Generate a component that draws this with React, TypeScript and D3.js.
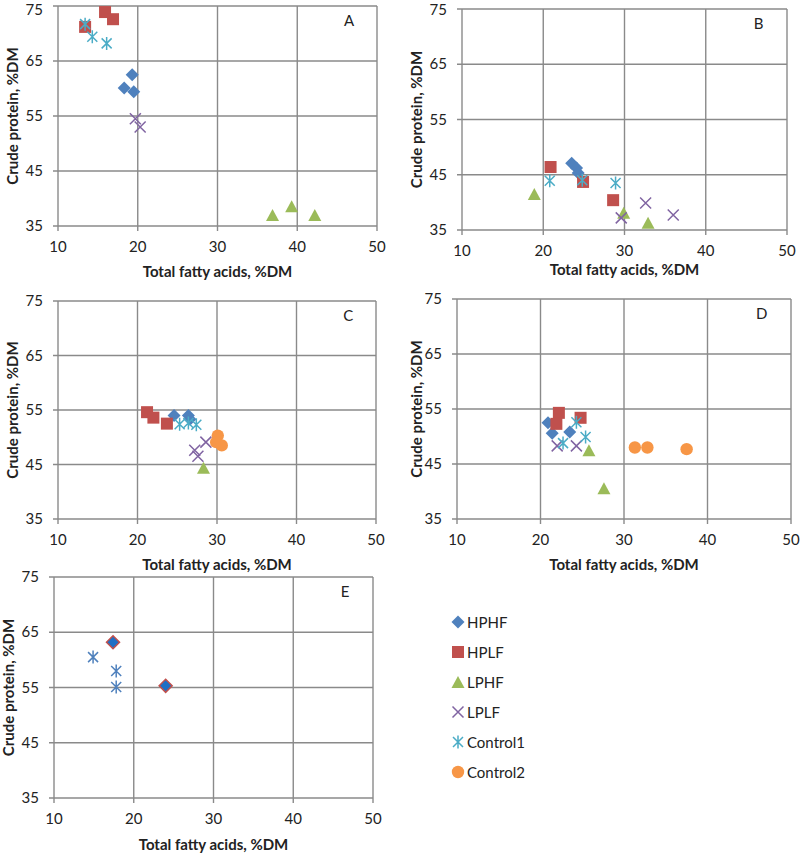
import React from "react";
import * as d3 from "d3";

type Pt = [number, number];

// ---- data (Total fatty acids %DM, Crude protein %DM) ----
const seriesNames = ["HPHF", "HPLF", "LPHF", "LPLF", "Control1", "Control2"];
const seriesColors = ["#4F81BD", "#C0504D", "#9BBB59", "#8064A2", "#4BACC6", "#F79646"];
const xTicks = [10, 20, 30, 40, 50];
const yTicks = [35, 45, 55, 65, 75];

const aHPHF: Pt[] = [[19.3, 62.5], [18.3, 60.1], [19.5, 59.4]];
const aHPLF: Pt[] = [[13.4, 71.2], [15.9, 73.9], [16.9, 72.6]];
const aLPHF: Pt[] = [[36.9, 37.0], [39.3, 38.6], [42.2, 37.0]];
const aLPLF: Pt[] = [[19.7, 54.5], [20.3, 53.0]];
const aControl1: Pt[] = [[13.4, 71.7], [14.3, 69.4], [16.1, 68.2]];
const aControl2: Pt[] = [];

const bHPHF: Pt[] = [[23.5, 47.1], [24.1, 46.2], [24.3, 45.3]];
const bHPLF: Pt[] = [[20.9, 46.4], [24.9, 43.7], [28.6, 40.4]];
const bLPHF: Pt[] = [[18.9, 41.5], [29.9, 38.1], [32.9, 36.3]];
const bLPLF: Pt[] = [[29.6, 37.2], [32.6, 39.9], [36.0, 37.7]];
const bControl1: Pt[] = [[20.8, 43.9], [24.8, 44.0], [28.9, 43.5]];
const bControl2: Pt[] = [];

const cHPHF: Pt[] = [[24.6, 54.0], [26.4, 54.0], [26.6, 53.3]];
const cHPLF: Pt[] = [[21.2, 54.6], [22.0, 53.6], [23.7, 52.5]];
const cLPHF: Pt[] = [[28.3, 44.4]];
const cLPLF: Pt[] = [[28.6, 49.1], [27.2, 47.6], [27.6, 46.5]];
const cControl1: Pt[] = [[25.3, 52.4], [26.4, 52.6], [27.4, 52.3]];
const cControl2: Pt[] = [[30.1, 50.3], [29.9, 49.1], [30.6, 48.5]];

const dHPHF: Pt[] = [[20.9, 52.5], [21.4, 50.6], [23.5, 50.8]];
const dHPLF: Pt[] = [[22.2, 54.3], [21.9, 52.3], [24.8, 53.4]];
const dLPHF: Pt[] = [[25.8, 47.5], [27.6, 40.6]];
const dLPLF: Pt[] = [[22.0, 48.3], [24.3, 48.3]];
const dControl1: Pt[] = [[24.3, 52.6], [22.7, 48.8], [25.4, 49.9]];
const dControl2: Pt[] = [[31.3, 48.0], [32.8, 48.0], [37.5, 47.7]];

const eHPHF: Pt[] = [[17.4, 63.2], [24.0, 55.3]];
const eControl1: Pt[] = [[14.9, 60.5], [17.8, 58.0], [17.8, 55.1]];

// ---- layout ----
const panels = [
  { label: "A", x0: 58, x1: 377, yTop: 6, yBot: 226, xTitleY: 277, yTitleX: 18,
    series: [aHPHF, aHPLF, aLPHF, aLPLF, aControl1, aControl2] },
  { label: "B", x0: 462, x1: 787, yTop: 9, yBot: 230, xTitleY: 275, yTitleX: 422,
    series: [bHPHF, bHPLF, bLPHF, bLPLF, bControl1, bControl2] },
  { label: "C", x0: 58, x1: 376, yTop: 301, yBot: 519, xTitleY: 570, yTitleX: 18,
    series: [cHPHF, cHPLF, cLPHF, cLPLF, cControl1, cControl2] },
  { label: "D", x0: 457, x1: 791, yTop: 299, yBot: 519, xTitleY: 570, yTitleX: 422,
    series: [dHPHF, dHPLF, dLPHF, dLPLF, dControl1, dControl2] },
  { label: "E", x0: 54, x1: 373, yTop: 577, yBot: 798, xTitleY: 850, yTitleX: 14,
    series: [eHPHF, [], [], [], eControl1, []], special: true },
];

const FONT = "Lato, 'Open Sans', sans-serif";
const GRID = "#8a8a8a";

function Marker({ kind, x, y, color, stroke }: { kind: number; x: number; y: number; color: string; stroke?: string }) {
  const s = 6;
  switch (kind) {
    case 0:
      return <path d={`M${x},${y - 6.5}L${x + 6.5},${y}L${x},${y + 6.5}L${x - 6.5},${y}Z`} fill={color} stroke={stroke || "none"} strokeWidth={stroke ? 1.5 : 0} />;
    case 1:
      return <rect x={x - s} y={y - s} width={2 * s} height={2 * s} fill={color} />;
    case 2:
      return <path d={`M${x},${y - 6}L${x + 6.5},${y + 6}L${x - 6.5},${y + 6}Z`} fill={color} />;
    case 3:
      return <path d={`M${x - 5.5},${y - 5.5}L${x + 5.5},${y + 5.5}M${x + 5.5},${y - 5.5}L${x - 5.5},${y + 5.5}`} stroke={color} strokeWidth={1.5} fill="none" />;
    case 4:
      return <path d={`M${x - 5},${y - 5}L${x + 5},${y + 5}M${x + 5},${y - 5}L${x - 5},${y + 5}M${x},${y - 6.5}L${x},${y + 6.5}`} stroke={color} strokeWidth={1.5} fill="none" />;
    default:
      return <circle cx={x} cy={y} r={6.2} fill={color} />;
  }
}

function Panel({ p }: { p: any }) {
  const xs = d3.scaleLinear().domain([10, 50]).range([p.x0, p.x1]);
  const ys = d3.scaleLinear().domain([35, 75]).range([p.yBot, p.yTop]);
  const cx = (p.x0 + p.x1) / 2;
  const cy = (p.yTop + p.yBot) / 2;
  return (
    <g>
      {xTicks.map((t) => (
        <line key={"gx" + t} x1={xs(t)} x2={xs(t)} y1={p.yTop} y2={p.yBot + 5} stroke={GRID} strokeWidth={1.4} />
      ))}
      {yTicks.map((t) => (
        <line key={"gy" + t} x1={p.x0 - 5} x2={p.x1} y1={ys(t)} y2={ys(t)} stroke={GRID} strokeWidth={1.4} />
      ))}
      {xTicks.map((t) => (
        <text key={"tx" + t} x={xs(t)} y={p.yBot + 26} textAnchor="middle" fontFamily={FONT} fontSize={15} fill="#222">{t}</text>
      ))}
      {yTicks.map((t) => (
        <text key={"ty" + t} x={p.x0 - 15} y={Math.max(ys(t) + 5, 15)} textAnchor="end" fontFamily={FONT} fontSize={15} fill="#222">{t}</text>
      ))}
      <text x={cx} y={p.xTitleY} textAnchor="middle" fontFamily={FONT} fontSize={15} fontWeight="bold" fill="#222">Total fatty acids, %DM</text>
      <text transform={`translate(${p.yTitleX},${cy}) rotate(-90)`} textAnchor="middle" fontFamily={FONT} fontSize={15} fontWeight="bold" fill="#222">Crude protein, %DM</text>
      <text x={xs(46.5)} y={ys(71.3)} textAnchor="middle" fontFamily={FONT} fontSize={15} fill="#222">{p.label}</text>
      {p.series.map((pts: Pt[], si: number) =>
        pts.map((d: Pt, i: number) => (
          <Marker key={si + "-" + i} kind={si} x={xs(d[0])} y={ys(d[1])}
            color={p.special && si === 0 ? "#1F6FC5" : p.special && si === 4 ? "#4F81BD" : seriesColors[si]}
            stroke={p.special && si === 0 ? "#C0504D" : undefined} />
        ))
      )}
    </g>
  );
}

export default function App() {
  return (
    <svg width={800} height={853} style={{ position: "absolute", left: 0, top: 0, background: "#fff" }}>
      <rect width={800} height={853} fill="#fff" />
      {panels.map((p) => (
        <Panel key={p.label} p={p} />
      ))}
      {seriesNames.map((n, i) => (
        <g key={n}>
          <Marker kind={i} x={458} y={622 + i * 30} color={seriesColors[i]} />
          <text x={467} y={622 + i * 30 + 5.5} fontFamily={FONT} fontSize={15} fill="#222">{n}</text>
        </g>
      ))}
    </svg>
  );
}
